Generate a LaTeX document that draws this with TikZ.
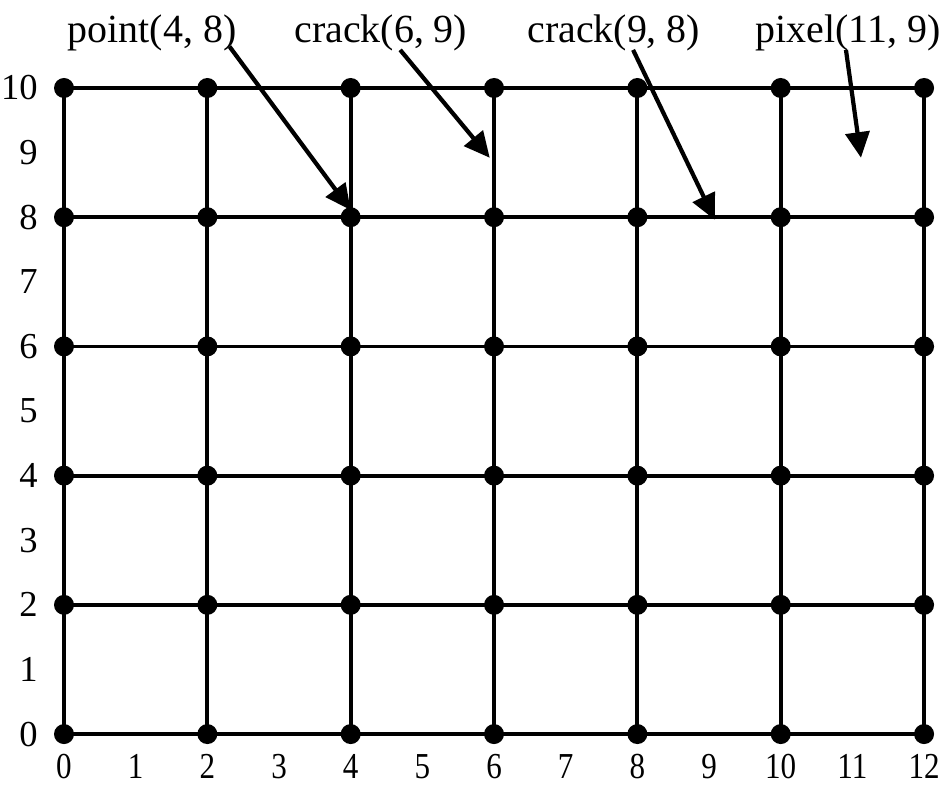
\documentclass[tikz,border=0pt]{standalone}
\usepackage{fontspec}
\setmainfont{Liberation Serif}
\usetikzlibrary{arrows.meta}

\tikzset{
  gridline/.style={line width=1.35pt},
  gridpt/.style={circle, fill, inner sep=0pt, minimum size=0.25cm},
  pointer/.style={line width=1.5pt, -{Triangle[length=0.32cm, width=0.3cm]}},
  numlbl/.style={inner sep=0pt, font=\fontsize{13}{15}\selectfont},
  toplbl/.style={inner sep=0pt, font=\fontsize{14.2}{16}\selectfont},
}

\begin{document}
\begin{tikzpicture}[x=0.8958cm, y=0.8075cm]
  \useasboundingbox (-0.893,-0.836) rectangle (12.306,11.362);

  % grid points
  \foreach \i in {0,2,...,12}
    \foreach \j in {0,2,...,10}
      \node[gridpt] (p-\i-\j) at (\i,\j) {};

  % grid lines
  \foreach \j in {0,2,...,10}
    \draw[gridline] (p-0-\j.center) -- (p-12-\j.center);
  \foreach \i in {0,2,...,12}
    \draw[gridline] (p-\i-0.center) -- (p-\i-10.center);

  % axis numbers
  \foreach \j in {0,...,10}
    \node[numlbl, anchor=east] (ynum-\j) at (-0.36,\j) {\j};
  \foreach \i in {0,...,12}
    \node[numlbl] (xnum-\i) at (\i,-0.50) {\scalebox{0.85}[1]{\i}};

  % labels
  \node[toplbl, anchor=base] (lbl-point) at (1.23,10.71) {point(4, 8)};
  \node[toplbl, anchor=base] (lbl-crackA) at (4.42,10.71) {crack(6, 9)};
  \node[toplbl, anchor=base] (lbl-crackB) at (7.67,10.71) {crack(9, 8)};
  \node[toplbl, anchor=base] (lbl-pixel) at (10.94,10.71) {pixel(11, 9)};

  % arrows
  \coordinate (from-point) at (2.31,10.64);
  \coordinate (to-point) at (4.0,8.11);
  \coordinate (from-crackA) at (4.69,10.59);
  \coordinate (to-crackA) at (5.94,8.92);
  \coordinate (from-crackB) at (7.94,10.59);
  \coordinate (to-crackB) at (9.08,7.96);
  \coordinate (from-pixel) at (10.91,10.59);
  \coordinate (to-pixel) at (11.12,8.92);
  \draw[pointer] (from-point) -- (to-point);
  \draw[pointer] (from-crackA) -- (to-crackA);
  \draw[pointer] (from-crackB) -- (to-crackB);
  \draw[pointer] (from-pixel) -- (to-pixel);
\end{tikzpicture}
\end{document}
